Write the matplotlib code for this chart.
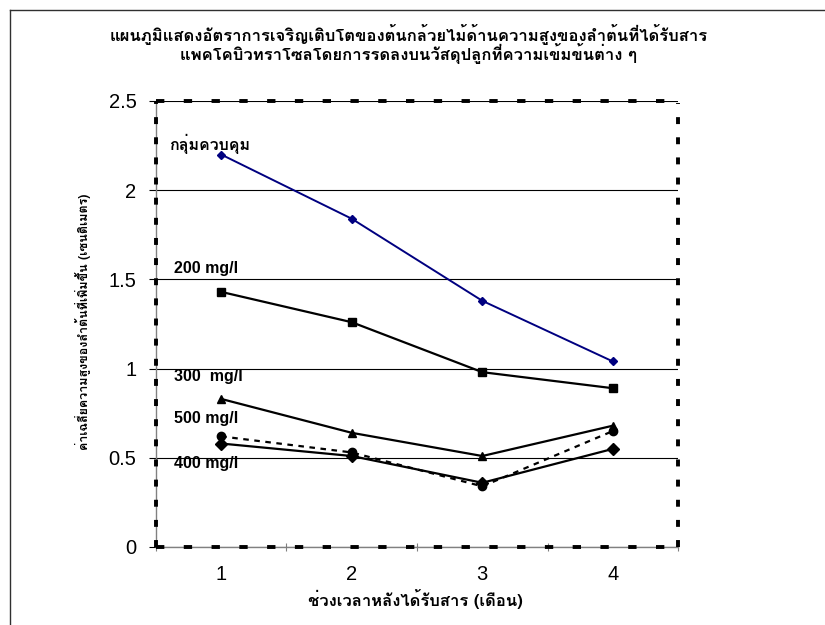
import matplotlib
matplotlib.use("Agg")
import matplotlib.pyplot as plt
from matplotlib import font_manager as fm
from matplotlib.ft2font import FT2Font
from matplotlib.lines import Line2D

# ---------------- data ----------------
months = [1, 2, 3, 4]
control = [2.20, 1.84, 1.38, 1.04]
mg200 = [1.43, 1.26, 0.98, 0.89]
mg300 = [0.83, 0.64, 0.51, 0.68]
mg500 = [0.62, 0.53, 0.34, 0.65]
mg400 = [0.58, 0.51, 0.36, 0.55]
y_ticks = [0, 0.5, 1, 1.5, 2, 2.5]
y_tick_labels = ["0", "0.5", "1", "1.5", "2", "2.5"]
series_labels = ["กลุ่มควบคุม", "200 mg/l", "300  mg/l", "500 mg/l", "400 mg/l"]
label_x = [0.6, 0.64, 0.64, 0.64, 0.64]
label_y = [2.26, 1.56, 0.955, 0.72, 0.47]
title = ("แผนภูมิแสดงอัตราการเจริญเติบโตของต้นกล้วยไม้ด้านความสูงของลำต้นที่ได้รับสาร\n"
         "แพคโคบิวทราโซลโดยการรดลงบนวัสดุปลูกที่ความเข้มข้นต่าง ๆ")
xlabel = "ช่วงเวลาหลังได้รับสาร (เดือน)"
ylabel = "ค่าเฉลี่ยความสูงของลำต้นที่เพิ่มขึ้น (เซนติเมตร)"

# ---------------- fonts ----------------
thai = {}
for f in fm.fontManager.ttflist:
    try:
        ft = FT2Font(f.fname)
        if ft.get_char_index(0x0E01) and ft.get_char_index(0x0E33):
            thai.setdefault(f.name, set()).add(f.weight)
    except Exception:
        pass
pref = [n for n in ["Loma", "Tahoma", "Garuda", "Sarabun", "IBM Plex Sans Thai Looped",
                    "Noto Sans Thai Looped", "Noto Sans Thai"] if n in thai]
thai_family = (pref + sorted(thai) + ["DejaVu Sans"])[0]
plt.rcParams["font.family"] = [thai_family, "Liberation Sans", "DejaVu Sans"]
plt.rcParams["lines.scale_dashes"] = False
latin_first = ["Liberation Sans", thai_family, "DejaVu Sans"]

fig = plt.figure(figsize=(8.25, 6.25), dpi=100)
ax = fig.add_axes([0.189, 0.1248, 0.633, 0.7136])

ax.plot(months, control, color="#000080", lw=1.4, marker="D", ms=4.5, mfc="#000080", mec="#000080", zorder=5)
ax.plot(months, mg200, color="black", lw=1.6, marker="s", ms=5.5, zorder=5)
ax.plot(months, mg300, color="black", lw=1.6, marker="^", ms=6, zorder=5)
l5, = ax.plot(months, mg500, color="black", lw=1.6, marker="o", ms=6, zorder=5)
l5.set_dashes([4, 4])
ax.plot(months, mg400, color="black", lw=1.6, marker="D", ms=6, zorder=5)

for i, (lab, xx, yy) in enumerate(zip(series_labels, label_x, label_y)):
    ax.text(xx, yy, lab, fontsize=11.5, fontweight="bold", ha="left", va="center",
            family=[thai_family] if i == 0 else latin_first)

ax.set_xlim(0.5, 4.5)
ax.set_ylim(0, 2.5)
ax.set_yticks(y_ticks)
ax.set_yticklabels(y_tick_labels, family=["Liberation Sans"], fontsize=14.5)
ax.set_xticks([0.5, 1.5, 2.5, 3.5, 4.5])
ax.set_xticklabels([])
ax.set_xticks(months, minor=True)
ax.set_xticklabels([str(m) for m in months], minor=True, family=["Liberation Sans"], fontsize=14.5)
ax.tick_params(axis="x", which="minor", length=0, pad=13)
ax.tick_params(axis="x", which="major", direction="inout", length=6, color="#808080")
ax.tick_params(axis="y", direction="out", length=5, color="black", width=0.8, pad=9)
ax.grid(axis="y", color="black", lw=0.8)
ax.set_axisbelow(True)
for s in ax.spines.values():
    s.set_visible(False)

ax.add_line(Line2D([0, 0], [0, 1], transform=ax.transAxes, color="#808080", lw=1, clip_on=False, zorder=3))
ax.add_line(Line2D([0, 1], [0, 0], transform=ax.transAxes, color="#808080", lw=1, clip_on=False, zorder=3))
for xs, ys, d in [([0, 1], [1, 1], [6, 14]), ([0, 1], [0, 0], [6, 14]),
                  ([0, 0], [0, 1], [5, 9.5]), ([1, 1], [0, 0.995], [5, 9.5])]:
    ln = Line2D(xs, ys, transform=ax.transAxes, color="black", lw=2.8, clip_on=False, zorder=4,
                solid_capstyle="butt", dash_capstyle="butt")
    ln.set_dashes(d)
    ax.add_line(ln)

fig.text(0.504, 1 - 599 / 625, xlabel, ha="center", va="center", fontsize=12, fontweight="bold")
fig.text(83 / 825, 1 - 322 / 625, ylabel, ha="center", va="center", rotation=90, fontsize=9, fontweight="bold")
fig.text(0.495, 1 - 44 / 625, title, ha="center", va="center", fontsize=12, fontweight="bold",
         linespacing=0.85, multialignment="center")

fig.add_artist(Line2D([0.012, 0.012], [0, 0.984], transform=fig.transFigure, color="#303030", lw=1))
fig.add_artist(Line2D([0.012, 1], [0.984, 0.984], transform=fig.transFigure, color="#303030", lw=1))

fig.savefig("out.png", dpi=100)
